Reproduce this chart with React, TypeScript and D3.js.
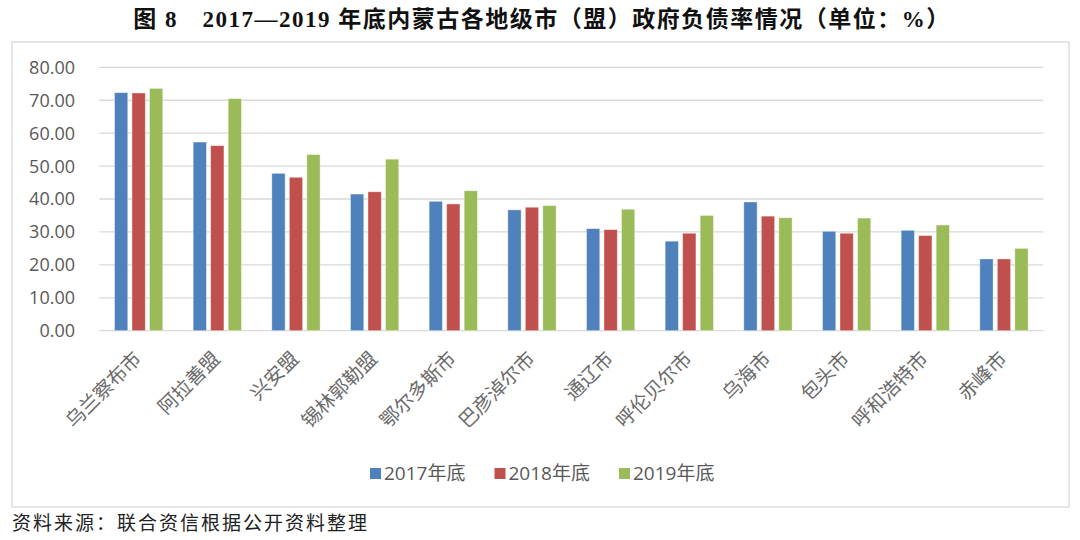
import React from "react";
import * as d3 from "d3";

const categories = ["乌兰察布市", "阿拉善盟", "兴安盟", "锡林郭勒盟", "鄂尔多斯市", "巴彦淖尔市", "通辽市", "呼伦贝尔市", "乌海市", "包头市", "呼和浩特市", "赤峰市"];
const seriesNames = ["2017年底", "2018年底", "2019年底"];
const values2017 = [72.3, 57.3, 47.8, 41.5, 39.3, 36.7, 31.0, 27.2, 39.1, 30.2, 30.5, 21.8];
const values2018 = [72.2, 56.2, 46.6, 42.2, 38.5, 37.5, 30.7, 29.6, 34.8, 29.6, 28.9, 21.8];
const values2019 = [73.6, 70.5, 53.5, 52.1, 42.5, 38.0, 36.9, 35.0, 34.3, 34.2, 32.1, 25.0];
const yTicks = [0, 10, 20, 30, 40, 50, 60, 70, 80];
const colors = ["#4F81BD", "#C0504D", "#9BBB59"];
const title = "图 8　2017—2019 年底内蒙古各地级市（盟）政府负债率情况（单位：%）";
const source = "资料来源：联合资信根据公开资料整理";

const W = 1080;
const H = 540;
const plotLeft = 99.3;
const plotRight = 1043.3;
const plotTop = 67.3;
const plotBottom = 330.7;

export default function App() {
  const seriesValues = [values2017, values2018, values2019];
  const y = d3.scaleLinear().domain([0, 80]).range([plotBottom, plotTop]);
  const x0 = d3.scaleBand<string>().domain(categories).range([plotLeft, plotRight]).padding(0);
  const groupW = 48.3;
  const x1 = d3.scaleBand<string>().domain(seriesNames).range([0, groupW]).paddingInner(0.24).paddingOuter(0);
  const groupOffset = (x0.bandwidth() - groupW) / 2;
  const numFont = "'Open Sans', 'Noto Sans CJK SC', sans-serif";
  const cjkFont = "'Noto Sans CJK SC', sans-serif";
  const legendStart = 370;
  const legendStep = 124.5;

  return (
    <svg width={W} height={H} style={{ position: "absolute", left: 0, top: 0, background: "#fff" }}>
      <rect x={0} y={0} width={W} height={H} fill="#fff" />
      <text x={542} y={27} textAnchor="middle" fontFamily="'Liberation Serif', 'Noto Sans CJK SC', serif" fontWeight="bold" fontSize={23} letterSpacing={1.5} fill="#111">
        {title}
      </text>
      <rect x={12} y={42} width={1057} height={465} fill="#fff" stroke="#d9d9d9" strokeWidth={1.3} />
      {yTicks.map((t) => (
        <g key={t}>
          <line x1={plotLeft} x2={plotRight} y1={y(t)} y2={y(t)} stroke="#d9d9d9" strokeWidth={1.3} />
          <text x={75} y={y(t)} dy="0.36em" textAnchor="end" fontFamily={numFont} fontSize={18} fill="#595959">
            {d3.format(".2f")(t)}
          </text>
        </g>
      ))}
      {categories.map((c, i) => (
        <g key={c} transform={`translate(${x0(c)! + groupOffset},0)`}>
          {seriesNames.map((s, j) => {
            const v = seriesValues[j][i];
            return (
              <rect key={s} x={x1(s)!} y={y(v)} width={x1.bandwidth()} height={y(0) - y(v)} fill={colors[j]} stroke="#ffffff" strokeOpacity={0.5} strokeWidth={0.8} />
            );
          })}
        </g>
      ))}
      {categories.map((c) => {
        const cx = x0(c)! + x0.bandwidth() / 2 + 4;
        const cy = 360;
        return (
          <text key={c} x={cx} y={cy} transform={`rotate(-45,${cx},${cy})`} textAnchor="end" fontFamily={cjkFont} fontSize={19.5} fill="#6a6a6a">
            {c}
          </text>
        );
      })}
      {seriesNames.map((s, j) => {
        const lx = legendStart + j * legendStep;
        return (
          <g key={s}>
            <rect x={lx} y={468} width={11} height={11} fill={colors[j]} />
            <text x={lx + 14} y={479.5} fontFamily={numFont} fontSize={19} fill="#595959">
              {s}
            </text>
          </g>
        );
      })}
      <text x={12} y={530} fontFamily={cjkFont} fontSize={19} letterSpacing={2} fill="#222">
        {source}
      </text>
    </svg>
  );
}
